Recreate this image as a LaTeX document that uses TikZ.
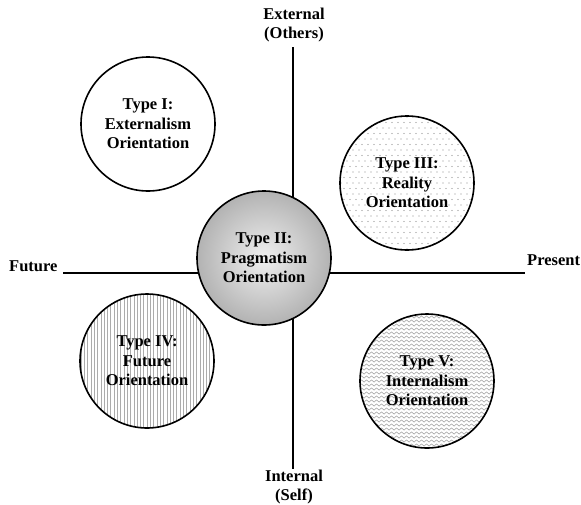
\documentclass[tikz,border=0pt]{standalone}
\usepackage{fontspec}
\setmainfont{Liberation Serif}
\usepackage{tikz}
\usetikzlibrary{calc,positioning,decorations.pathmorphing}

\tikzset{
  orient/.style={circle, draw=black, line width=1.6pt, minimum size=134pt, inner sep=0pt,
    align=center, font=\fontsize{16.5}{19.5}\selectfont\bfseries},
  axis/.style={line width=2.8pt},
  axlabel/.style={align=center, inner sep=0pt, font=\fontsize{16.5}{19.5}\selectfont\bfseries}
}

\begin{document}
\begin{tikzpicture}[x=1pt, y=-1pt]
    \useasboundingbox (0,0) rectangle (581,504);
    \node[axlabel] (ext) at (294,25) {External\\(Others)};
    \node[axlabel] (int) at (294,487) {Internal\\(Self)};
    \node[axlabel, anchor=base west] (fut) at (9,271) {Future};
    \node[axlabel, anchor=base west] (pres) at (527,265) {Present};
    \coordinate (vtop) at (293,47);
    \coordinate (vbot) at (293,469);
    \coordinate (hleft) at (63,273);
    \coordinate (hright) at (525,273);
    \draw[axis] (vtop) -- (vbot);
    \draw[axis] (hleft) -- (hright);
    \node[orient, fill=white] (typeI) at (148,124) {Type I:\\Externalism\\Orientation};
    \node[orient, fill=white, path picture={
        \foreach \i in {-12,...,12} \foreach \j in {-12,...,12}
          \fill[gray!90] ($(path picture bounding box.center)+({\i*6+mod(\j,2)*3},{\j*5.5})$) circle (0.7);
      }] (typeIII) at (407,183) {Type III:\\Reality\\Orientation};
    \node[orient, fill=white, path picture={
        \foreach \i in {-21,...,21}
          \draw[gray!65, line width=0.55pt] ($(path picture bounding box.center)+({\i*3.3},-70)$) -- ++(0,140);
      }] (typeIV) at (147,361) {Type IV:\\Future\\Orientation};
    \node[orient, fill=white, path picture={
        \foreach \j in {-18,...,18}
          \draw[gray!70, line width=0.6pt, decorate, decoration={snake, amplitude=1.1pt, segment length=5pt}]
            ($(path picture bounding box.center)+(-72,{\j*4})$) -- ++(144,0);
      }] (typeV) at (427,381) {Type V:\\Internalism\\Orientation};
    \node[orient, shading=radial, inner color=gray!12, outer color=gray!60] (typeII) at (264,258)
      {Type II:\\Pragmatism\\Orientation};
\end{tikzpicture}
\end{document}
